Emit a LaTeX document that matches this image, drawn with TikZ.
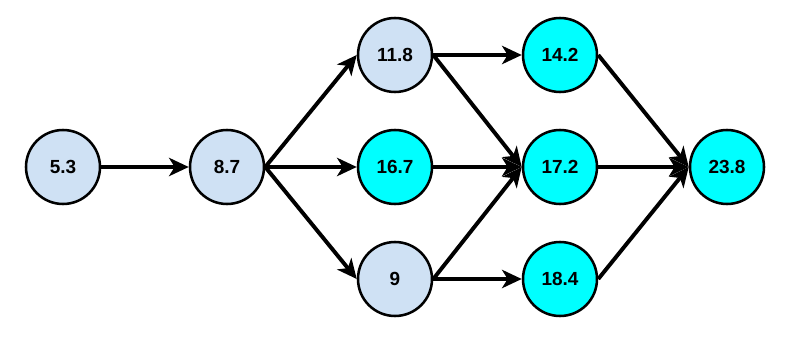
\documentclass[tikz,border=0pt]{standalone}
\usepackage{fontspec}
\setmainfont{Liberation Sans}
\usetikzlibrary{arrows.meta,positioning}
\definecolor{paleblue}{RGB}{207,225,244}
\definecolor{brightcyan}{RGB}{0,255,255}
\tikzset{
    event/.style={circle, minimum size=1.85cm, inner sep=0pt, draw=black, line width=1.8pt, fill=paleblue, font=\fontsize{13.5}{15}\selectfont\bfseries},
    critical/.style={event, fill=brightcyan},
    arrow/.style={line width=2.8pt, -{Stealth[length=14pt,width=13pt,inset=4pt]}}
}
\begin{document}
\begin{tikzpicture}

\useasboundingbox (0,0) rectangle (20,8.8);

% First column
\node[event] (n1) at (1.575,4.625) {5.3};
\node[event] (n2) at (5.675,4.625) {8.7};

% Middle column
\node[event] (n3) at (9.875,7.425) {11.8};
\node[critical] (n4) at (9.875,4.625) {16.7};
\node[event] (n5) at (9.875,1.825) {9};

% Right column
\node[critical] (n6) at (14.0,7.425) {14.2};
\node[critical] (n7) at (14.0,4.625) {17.2};
\node[critical] (n8) at (14.0,1.825) {18.4};

% End
\node[critical] (n9) at (18.175,4.625) {23.8};

% Arrows
\draw[arrow] (n1.east) -- (n2.west);
\draw[arrow] (n2.east) -- (n3.west);
\draw[arrow] (n2.east) -- (n4.west);
\draw[arrow] (n2.east) -- (n5.west);
\draw[arrow] (n3.east) -- (n6.west);
\draw[arrow] (n3.east) -- (n7.west);
\draw[arrow] (n4.east) -- (n7.west);
\draw[arrow] (n5.east) -- (n7.west);
\draw[arrow] (n5.east) -- (n8.west);
\draw[arrow] (n6.east) -- (n9.west);
\draw[arrow] (n7.east) -- (n9.west);
\draw[arrow] (n8.east) -- (n9.west);

\end{tikzpicture}
\end{document}
